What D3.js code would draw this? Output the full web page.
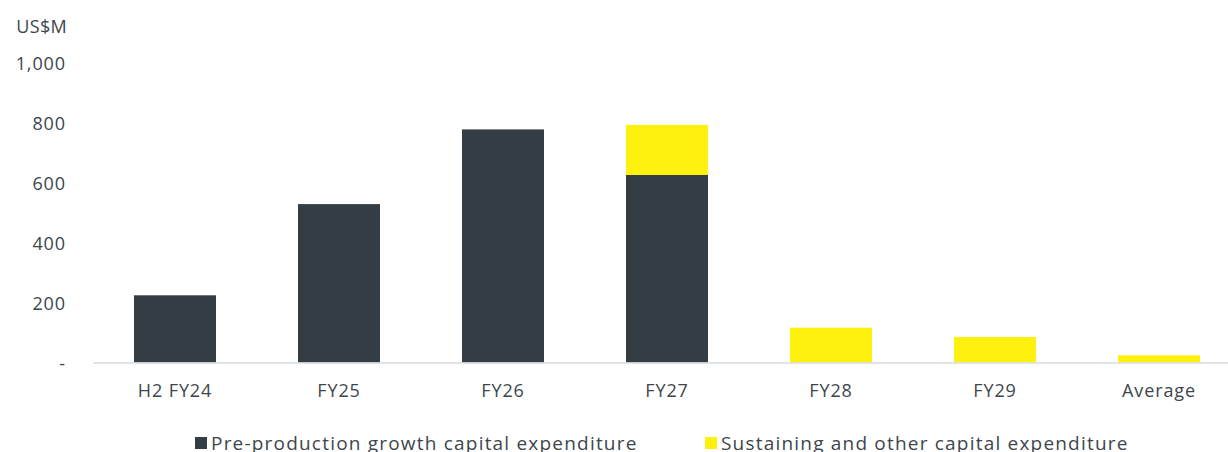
<!DOCTYPE html>
<html>
<head>
<meta charset="utf-8">
<script src="https://cdn.jsdelivr.net/npm/d3@7"></script>
<style>
  body { margin: 0; background: #fff; }
  svg { display: block; }
  svg text { font-family: "Open Sans", sans-serif; }
</style>
</head>
<body>
<script>
const categories = ['H2 FY24', 'FY25', 'FY26', 'FY27', 'FY28', 'FY29', 'Average'];
const growthCapex = [224, 528, 777, 625, 0, 0, 0];
const sustainingCapex = [0, 0, 0, 167, 116, 85, 24];
const yTicks = [0, 200, 400, 600, 800, 1000];
const seriesNames = ['Pre-production growth capital expenditure', 'Sustaining and other capital expenditure'];

const width = 1228;
const height = 452;
const textColor = '#3d464c';
const colors = ['#333d43', '#fff10e'];

const svg = d3.select('body').append('svg')
    .attr('width', width)
    .attr('height', height);

const x = d3.scaleBand()
    .domain(categories)
    .range([93, 1241])
    .paddingInner(0.5)
    .paddingOuter(0.25);

const y = d3.scaleLinear()
    .domain([0, 1000])
    .range([362.5, 62.5]);

// stacked data
const rows = categories.map((c, i) => ({ cat: c, growth: growthCapex[i], sustaining: sustainingCapex[i] }));
const stack = d3.stack().keys(['growth', 'sustaining'])(rows);

// y axis labels (no line, no ticks)
const yAxis = svg.append('g')
    .attr('transform', 'translate(66,0)')
    .call(d3.axisLeft(y).tickValues(yTicks).tickSize(0).tickPadding(0)
        .tickFormat(d => d === 0 ? '-' : d3.format(',')(d)));
yAxis.select('.domain').remove();
yAxis.selectAll('text')
    .attr('fill', textColor)
    .style('font-size', '18px')
    .style('letter-spacing', '0.9px')
    .attr('dy', '0.4em');

svg.append('text')
    .attr('x', 67)
    .attr('y', 33)
    .attr('text-anchor', 'end')
    .attr('fill', textColor)
    .style('font-size', '18px')
    .style('letter-spacing', '0.3px')
    .text('US$M');

// bars
svg.append('g').selectAll('g')
    .data(stack)
    .join('g')
    .attr('fill', (d, i) => colors[i])
    .selectAll('rect')
    .data(d => d.filter(s => s[1] - s[0] > 0))
    .join('rect')
    .attr('x', d => x(d.data.cat))
    .attr('width', x.bandwidth())
    .attr('y', d => y(d[1]))
    .attr('height', d => y(d[0]) - y(d[1]));

// x axis
const xAxis = svg.append('g')
    .attr('transform', `translate(0,${y(0)})`)
    .call(d3.axisBottom(x).tickSize(0).tickPadding(22));
xAxis.select('.domain')
    .attr('stroke', '#d8dce0')
    .attr('stroke-width', 1.5)
    .attr('d', `M93,0.5H${width}`);
xAxis.selectAll('text')
    .attr('fill', textColor)
    .style('font-size', '18px')
    .style('letter-spacing', '0.9px');

// legend
const legendX = [195, 705];
const legend = svg.append('g').selectAll('g')
    .data(seriesNames)
    .join('g')
    .attr('transform', (d, i) => `translate(${legendX[i]},437)`);
legend.append('rect')
    .attr('width', 12)
    .attr('height', 12)
    .attr('fill', (d, i) => colors[i]);
legend.append('text')
    .attr('x', 16)
    .attr('y', 6)
    .attr('dy', '0.36em')
    .attr('fill', textColor)
    .style('font-size', '19px')
    .style('letter-spacing', '1.2px')
    .text(d => d);
</script>
</body>
</html>
